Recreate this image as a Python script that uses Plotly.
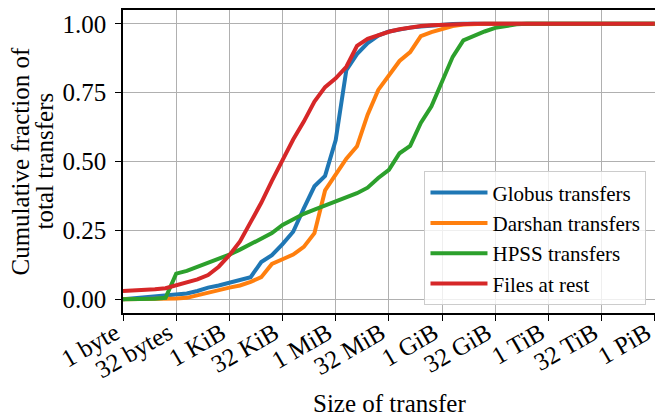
import math
import plotly.graph_objects as go

# log2 of transfer size in bytes (bin positions)
size_exponents = list(range(51))
sizes_bytes = [2 ** e for e in size_exponents]

globus = [0.0, 0.003, 0.009, 0.012, 0.015, 0.018, 0.021, 0.03, 0.042, 0.05,
          0.059, 0.068, 0.08, 0.135, 0.16, 0.2, 0.245, 0.33, 0.41, 0.448,
          0.578, 0.832, 0.89, 0.93, 0.957, 0.972, 0.98, 0.986, 0.99, 0.994,
          0.997, 0.999, 1.0, 1.0, 1.0, 1.0, 1.0, 1.0, 1.0, 1.0,
          1.0, 1.0, 1.0, 1.0, 1.0, 1.0, 1.0, 1.0, 1.0, 1.0, 1.0]
darshan = [0.0, 0.0, 0.0, 0.001, 0.002, 0.003, 0.005, 0.015, 0.025, 0.035,
           0.042, 0.05, 0.063, 0.08, 0.128, 0.145, 0.162, 0.19, 0.24, 0.395,
           0.455, 0.51, 0.555, 0.67, 0.76, 0.815, 0.865, 0.897, 0.955, 0.97,
           0.982, 0.992, 0.997, 1.0, 1.0, 1.0, 1.0, 1.0, 1.0, 1.0,
           1.0, 1.0, 1.0, 1.0, 1.0, 1.0, 1.0, 1.0, 1.0, 1.0, 1.0]
hpss = [0.0, 0.0, 0.001, 0.002, 0.005, 0.093, 0.103, 0.118, 0.13, 0.145,
        0.162, 0.18, 0.2, 0.218, 0.24, 0.27, 0.29, 0.31, 0.325, 0.34,
        0.355, 0.37, 0.385, 0.405, 0.44, 0.47, 0.53, 0.557, 0.64, 0.70,
        0.79, 0.88, 0.94, 0.957, 0.972, 0.985, 0.993, 0.998, 1.0, 1.0,
        1.0, 1.0, 1.0, 1.0, 1.0, 1.0, 1.0, 1.0, 1.0, 1.0, 1.0]
at_rest = [0.03, 0.031, 0.033, 0.036, 0.04, 0.05, 0.059, 0.072, 0.088, 0.118,
           0.16, 0.21, 0.28, 0.35, 0.43, 0.505, 0.58, 0.645, 0.718, 0.77,
           0.802, 0.844, 0.92, 0.945, 0.958, 0.971, 0.98, 0.987, 0.992, 0.995,
           0.997, 0.999, 1.0, 1.0, 1.0, 1.0, 1.0, 1.0, 1.0, 1.0,
           1.0, 1.0, 1.0, 1.0, 1.0, 1.0, 1.0, 1.0, 1.0, 1.0, 1.0]

tick_exponents = [0, 5, 10, 15, 20, 25, 30, 35, 40, 45, 50]
tick_labels = ["1 byte", "32 bytes", "1 KiB", "32 KiB", "1 MiB", "32 MiB",
               "1 GiB", "32 GiB", "1 TiB", "32 TiB", "1 PiB"]
y_ticks = [0, 0.25, 0.5, 0.75, 1.0]
y_tick_labels = ["0.00", "0.25", "0.50", "0.75", "1.00"]
y_title_lines = ["Cumulative fraction of", "total transfers"]
x_title = "Size of transfer"

series = [
    ("Globus transfers", globus, "#1f77b4"),
    ("Darshan transfers", darshan, "#ff7f0e"),
    ("HPSS transfers", hpss, "#2ca02c"),
    ("Files at rest", at_rest, "#d62728"),
]

FONT = "Liberation Serif"
FS = 25
L, R, T, B = 123, 0, 10, 103
W, H = 655, 416
PW = W - L - R
PH = H - T - B

fig = go.Figure()
for name, vals, color in series:
    fig.add_trace(go.Scatter(x=sizes_bytes, y=vals, mode="lines", name=name,
                             line=dict(color=color, width=4)))

# y-axis title as two rotated lines
for i, line_text in enumerate(y_title_lines):
    px = [20, 44][i]
    fig.add_annotation(text=line_text, xref="paper", yref="paper",
                       x=(px - L) / PW, y=0.5, xanchor="center", yanchor="middle",
                       textangle=-90, showarrow=False,
                       font=dict(family=FONT, size=FS, color="black"))
# x-axis title
fig.add_annotation(text=x_title, xref="paper", yref="paper",
                   x=0.5, y=(H - B - 403) / PH, xanchor="center", yanchor="middle",
                   showarrow=False, font=dict(family=FONT, size=FS, color="black"))

fig.update_layout(
    width=W, height=H,
    margin=dict(l=L, r=R, t=T, b=B, autoexpand=False),
    plot_bgcolor="white", paper_bgcolor="white",
    font=dict(family=FONT, size=FS, color="black"),
    legend=dict(x=0.984, y=0.025, xanchor="right", yanchor="bottom",
                bgcolor="rgba(255,255,255,0.8)", bordercolor="#cccccc",
                borderwidth=1, itemwidth=57,
                font=dict(size=21, family=FONT, color="black")),
    xaxis=dict(type="log", range=[0, math.log10(2) * 50.02], automargin=False,
               tickvals=[2 ** e for e in tick_exponents], ticktext=tick_labels,
               tickangle=-30, ticks="outside", ticklen=6, tickcolor="black",
               ticklabelstandoff=-12, ticklabelshift=-8, ticklabeloverflow="allow",
               showgrid=True, gridcolor="#b0b0b0", gridwidth=1,
               showline=True, linecolor="black", linewidth=1.5, mirror=True,
               zeroline=False, tickfont=dict(family=FONT, size=FS, color="black")),
    yaxis=dict(range=[-0.05, 1.05], tickvals=y_ticks, ticktext=y_tick_labels,
               automargin=False, ticklabelstandoff=4,
               ticks="outside", ticklen=6, tickcolor="black",
               showgrid=True, gridcolor="#b0b0b0", gridwidth=1,
               showline=True, linecolor="black", linewidth=1.5, mirror=False,
               zeroline=False, tickfont=dict(family=FONT, size=FS, color="black")),
)

fig.write_html("out.html", config={"displayModeBar": False},
               post_script="document.body.style.margin='0';"
                           "document.body.style.overflow='hidden';")
